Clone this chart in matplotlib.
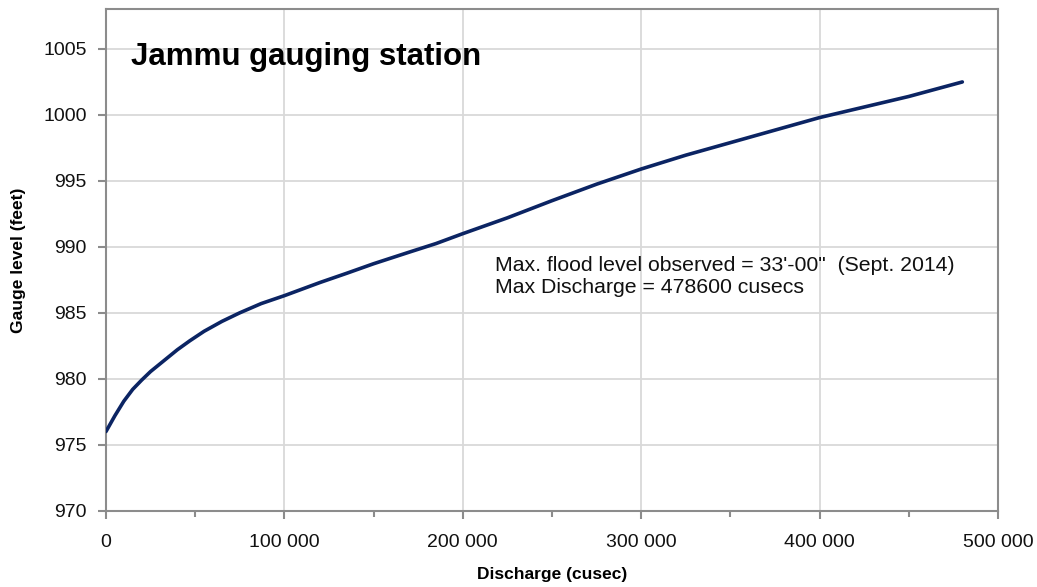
import matplotlib
matplotlib.use("Agg")
import matplotlib.pyplot as plt
from matplotlib.ticker import FuncFormatter, MultipleLocator

plt.rcParams['font.family'] = ['Liberation Sans', 'DejaVu Sans']

# rating curve
discharge = [0, 5000, 10000, 15000, 20000, 25000, 30000, 40000, 47000, 55000,
             65000, 75000, 87000, 100000, 120000, 135000, 150000, 170000, 185000,
             200000, 225000, 250000, 275000, 300000, 325000, 350000, 375000,
             400000, 425000, 450000, 465000, 480000]
gauge = [976.0, 977.2, 978.3, 979.2, 979.9, 980.55, 981.1, 982.2, 982.88, 983.6,
         984.35, 985.0, 985.7, 986.3, 987.3, 988.0, 988.72, 989.6, 990.25,
         991.0, 992.2, 993.5, 994.75, 995.9, 996.95, 997.9, 998.85,
         999.8, 1000.6, 1001.4, 1001.95, 1002.5]

title = 'Jammu gauging station'
note = 'Max. flood level observed = 33\'-00"  (Sept. 2014)\nMax Discharge = 478600 cusecs'

fig = plt.figure(figsize=(10.37, 5.87), dpi=100)
ax = fig.add_axes([0.1022, 0.130, 0.8602, 0.854])

ax.plot(discharge, gauge, color='#0b2463', lw=2.6, solid_capstyle='round',
        solid_joinstyle='round', zorder=3)

ax.set_xlim(0, 500000)
ax.set_ylim(970, 1008)
ax.xaxis.set_major_locator(MultipleLocator(100000))
ax.xaxis.set_minor_locator(MultipleLocator(50000))
ax.yaxis.set_major_locator(MultipleLocator(5))
ax.xaxis.set_major_formatter(FuncFormatter(lambda v, p: f'{int(v):,}'.replace(',', ' ')))

ax.grid(True, which='major', color='#d9d9d9', lw=1.3, zorder=0)
for s in ax.spines.values():
    s.set_color('#8c8c8c')
    s.set_linewidth(1.5)
ax.tick_params(axis='both', which='major', direction='out', length=6, width=1.5,
               color='#8c8c8c', labelsize=14, labelcolor='#111111', pad=8)
ax.tick_params(axis='x', which='major', pad=11)
ax.tick_params(axis='x', which='minor', direction='out', length=4, width=1.5, color='#8c8c8c')

ax.set_xlabel('Discharge (cusec)', fontsize=12.5, fontweight='bold', labelpad=11)
ax.set_ylabel('Gauge level (feet)', fontsize=12.5, fontweight='bold', labelpad=12)

ax.text(0.028, 0.905, title, transform=ax.transAxes, fontsize=22.5, fontweight='bold',
        ha='left', va='center')
ax.text(218000, 987.75, note, fontsize=15.3, ha='left', va='center', linespacing=1.15,
        color='#111111')

fig.savefig('out.png', dpi=100)
